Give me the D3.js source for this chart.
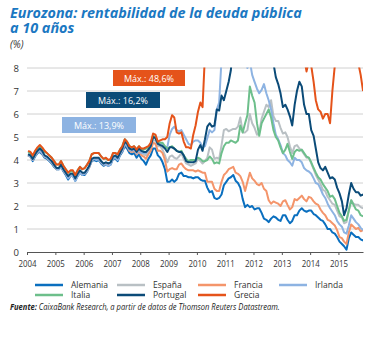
<!DOCTYPE html>
<html>
<head>
<meta charset="utf-8">
<script src="https://cdn.jsdelivr.net/npm/d3@7"></script>
<style>
  body { margin: 0; background: #fff; }
  svg { display: block; font-family: "Open Sans", sans-serif; }
</style>
</head>
<body>
<div id="chart"></div>
<script>
// monthly 10-year yields (%), Jan 2004 .. Nov 2015
var alemania = [
  4.20, 4.15, 3.95, 4.15, 4.30, 4.35, 4.25, 4.10, 4.05, 3.95, 3.85, 3.70,
  3.60, 3.60, 3.70, 3.50, 3.35, 3.15, 3.30, 3.30, 3.10, 3.30, 3.45, 3.35,
  3.35, 3.50, 3.70, 3.95, 4.00, 3.95, 4.00, 3.85, 3.75, 3.80, 3.75, 3.80,
  4.05, 4.05, 3.95, 4.20, 4.35, 4.60, 4.50, 4.30, 4.25, 4.30, 4.10, 4.25,
  4.05, 3.95, 3.80, 4.05, 4.20, 4.50, 4.50, 4.20, 4.10, 3.90, 3.60, 3.05,
  3.05, 3.15, 3.05, 3.15, 3.40, 3.45, 3.30, 3.30, 3.25, 3.25, 3.20, 3.25,
  3.25, 3.15, 3.10, 3.10, 2.80, 2.60, 2.65, 2.35, 2.30, 2.35, 2.50, 2.90,
  3.05, 3.20, 3.25, 3.35, 3.10, 3.00, 2.80, 2.30, 1.95, 2.05, 1.95, 2.00,
  1.85, 1.90, 1.90, 1.70, 1.45, 1.40, 1.30, 1.45, 1.55, 1.50, 1.40, 1.35,
  1.60, 1.60, 1.40, 1.25, 1.35, 1.60, 1.60, 1.80, 1.90, 1.80, 1.75, 1.80,
  1.80, 1.65, 1.60, 1.50, 1.40, 1.35, 1.20, 1.00, 1.00, 0.85, 0.80, 0.65,
  0.45, 0.35, 0.25, 0.10, 0.60, 0.85, 0.75, 0.65, 0.65, 0.55, 0.50
];
var espana = [
  4.25, 4.15, 4.00, 4.20, 4.35, 4.45, 4.30, 4.15, 4.10, 4.00, 3.90, 3.75,
  3.60, 3.60, 3.75, 3.55, 3.40, 3.25, 3.30, 3.30, 3.15, 3.35, 3.50, 3.40,
  3.40, 3.55, 3.70, 4.00, 4.05, 4.05, 4.05, 3.90, 3.80, 3.85, 3.80, 3.85,
  4.10, 4.15, 4.05, 4.30, 4.45, 4.75, 4.65, 4.45, 4.35, 4.45, 4.30, 4.45,
  4.30, 4.25, 4.20, 4.35, 4.50, 4.85, 4.85, 4.60, 4.60, 4.45, 4.20, 3.90,
  4.15, 4.20, 4.10, 4.05, 4.15, 4.30, 4.05, 3.85, 3.80, 3.75, 3.80, 3.85,
  4.05, 3.95, 3.85, 3.95, 4.10, 4.55, 4.45, 4.05, 4.10, 4.05, 4.65, 5.30,
  5.35, 5.25, 5.30, 5.35, 5.35, 5.45, 5.85, 5.20, 5.20, 5.30, 6.00, 5.60,
  5.40, 5.10, 5.20, 5.80, 6.10, 6.40, 6.30, 6.60, 5.90, 5.70, 5.70, 5.40,
  5.15, 5.20, 5.00, 4.60, 4.30, 4.60, 4.65, 4.50, 4.40, 4.25, 4.10, 4.10,
  3.85, 3.60, 3.35, 3.15, 2.95, 2.70, 2.65, 2.40, 2.25, 2.10, 2.05, 1.80,
  1.55, 1.50, 1.25, 1.30, 1.80, 2.25, 2.10, 2.05, 2.05, 1.95, 1.90
];
var francia = [
  4.20, 4.15, 4.00, 4.20, 4.35, 4.45, 4.30, 4.15, 4.10, 4.00, 3.90, 3.75,
  3.60, 3.65, 3.75, 3.55, 3.40, 3.25, 3.30, 3.35, 3.15, 3.35, 3.50, 3.40,
  3.40, 3.55, 3.70, 4.00, 4.05, 4.05, 4.05, 3.90, 3.80, 3.85, 3.80, 3.85,
  4.10, 4.10, 4.05, 4.25, 4.40, 4.70, 4.60, 4.40, 4.35, 4.40, 4.25, 4.40,
  4.20, 4.15, 4.05, 4.25, 4.40, 4.75, 4.70, 4.40, 4.40, 4.30, 4.00, 3.50,
  3.60, 3.65, 3.60, 3.60, 3.80, 3.85, 3.70, 3.60, 3.55, 3.55, 3.55, 3.50,
  3.55, 3.50, 3.45, 3.45, 3.05, 3.05, 3.05, 2.75, 2.65, 2.65, 3.05, 3.35,
  3.45, 3.60, 3.65, 3.70, 3.45, 3.40, 3.30, 3.05, 2.65, 3.05, 3.45, 3.20,
  3.10, 2.95, 2.90, 3.00, 2.75, 2.65, 2.25, 2.10, 2.20, 2.15, 2.10, 2.00,
  2.20, 2.25, 2.05, 1.85, 1.95, 2.30, 2.25, 2.35, 2.45, 2.30, 2.20, 2.40,
  2.35, 2.20, 2.10, 2.05, 1.85, 1.70, 1.60, 1.40, 1.35, 1.25, 1.15, 0.95,
  0.65, 0.60, 0.45, 0.35, 0.85, 1.20, 1.10, 1.00, 1.05, 0.90, 0.95
];
var irlanda = [
  4.20, 4.15, 4.00, 4.20, 4.35, 4.40, 4.30, 4.15, 4.10, 4.00, 3.90, 3.75,
  3.60, 3.60, 3.70, 3.55, 3.40, 3.20, 3.30, 3.30, 3.10, 3.30, 3.45, 3.35,
  3.40, 3.55, 3.70, 4.00, 4.05, 4.00, 4.05, 3.90, 3.80, 3.80, 3.75, 3.80,
  4.10, 4.10, 4.00, 4.25, 4.40, 4.70, 4.60, 4.45, 4.40, 4.45, 4.30, 4.45,
  4.30, 4.30, 4.30, 4.45, 4.60, 5.00, 5.00, 4.70, 4.75, 4.65, 4.55, 4.55,
  5.10, 5.35, 5.45, 5.30, 5.25, 5.30, 5.10, 4.90, 4.70, 4.65, 4.80, 4.85,
  4.85, 4.75, 4.55, 4.60, 4.95, 5.30, 5.20, 5.30, 6.20, 6.50, 8.40, 8.90,
  8.90, 9.00, 9.70, 10.0, 10.8, 11.4, 13.9, 10.2, 8.60, 8.00, 8.30, 7.70,
  7.40, 7.10, 6.90, 7.05, 7.30, 6.90, 6.60, 6.20, 5.60, 5.10, 4.90, 4.65,
  4.30, 4.20, 4.00, 3.90, 3.75, 4.10, 4.00, 4.00, 3.90, 3.65, 3.55, 3.50,
  3.40, 3.20, 3.00, 2.95, 2.75, 2.50, 2.35, 2.10, 1.90, 1.75, 1.60, 1.35,
  1.20, 1.10, 0.85, 0.80, 1.15, 1.60, 1.45, 1.30, 1.20, 1.05, 0.95
];
var italia = [
  4.35, 4.30, 4.15, 4.35, 4.50, 4.60, 4.50, 4.35, 4.30, 4.20, 4.10, 3.95,
  3.80, 3.80, 3.95, 3.75, 3.60, 3.45, 3.50, 3.50, 3.35, 3.55, 3.70, 3.60,
  3.65, 3.80, 3.95, 4.25, 4.30, 4.30, 4.30, 4.15, 4.05, 4.05, 4.00, 4.00,
  4.30, 4.30, 4.25, 4.45, 4.60, 4.90, 4.80, 4.60, 4.55, 4.60, 4.45, 4.60,
  4.45, 4.45, 4.50, 4.55, 4.70, 5.05, 5.00, 4.75, 4.75, 4.75, 4.60, 4.50,
  4.55, 4.60, 4.50, 4.40, 4.35, 4.40, 4.20, 4.05, 3.95, 4.00, 4.00, 4.00,
  4.10, 4.05, 3.95, 3.95, 4.00, 4.15, 4.05, 3.85, 3.90, 3.85, 4.30, 4.60,
  4.75, 4.75, 4.85, 4.80, 4.75, 4.85, 5.50, 5.20, 5.60, 5.95, 7.20, 6.80,
  6.50, 5.60, 5.05, 5.60, 5.80, 6.00, 6.20, 5.85, 5.30, 5.00, 4.85, 4.55,
  4.30, 4.45, 4.70, 4.35, 4.05, 4.35, 4.45, 4.40, 4.45, 4.30, 4.15, 4.10,
  3.90, 3.65, 3.45, 3.25, 3.15, 2.95, 2.80, 2.65, 2.40, 2.45, 2.30, 2.00,
  1.70, 1.55, 1.35, 1.40, 1.80, 2.25, 2.05, 1.85, 1.80, 1.60, 1.55
];
var portugal = [
  4.25, 4.20, 4.05, 4.25, 4.40, 4.50, 4.40, 4.20, 4.15, 4.05, 3.95, 3.80,
  3.65, 3.65, 3.80, 3.60, 3.45, 3.30, 3.40, 3.40, 3.20, 3.40, 3.55, 3.45,
  3.45, 3.60, 3.75, 4.05, 4.10, 4.10, 4.10, 3.95, 3.85, 3.90, 3.85, 3.90,
  4.15, 4.20, 4.10, 4.30, 4.50, 4.80, 4.70, 4.50, 4.45, 4.50, 4.35, 4.50,
  4.40, 4.35, 4.35, 4.45, 4.60, 5.00, 4.95, 4.70, 4.65, 4.60, 4.50, 4.35,
  4.55, 4.55, 4.50, 4.40, 4.35, 4.35, 4.20, 3.95, 3.90, 3.90, 3.90, 3.95,
  4.45, 4.65, 4.40, 4.90, 5.45, 5.60, 5.45, 5.50, 6.20, 6.15, 6.80, 6.60,
  7.00, 7.40, 7.90, 9.20, 9.60, 10.9, 12.1, 10.6, 11.0, 11.7, 12.0, 13.1,
  16.2, 13.0, 13.0, 11.7, 11.7, 10.5, 10.5, 9.60, 8.20, 7.60, 7.30, 6.90,
  6.30, 6.40, 6.20, 5.90, 5.50, 6.40, 7.00, 7.40, 7.20, 6.40, 6.00, 6.00,
  5.30, 5.05, 4.50, 3.90, 3.65, 3.55, 3.70, 3.45, 3.20, 3.25, 3.15, 2.80,
  2.55, 2.20, 1.60, 1.90, 2.50, 3.00, 2.75, 2.60, 2.60, 2.45, 2.50
];
var grecia = [
  4.40, 4.35, 4.20, 4.40, 4.55, 4.65, 4.55, 4.40, 4.30, 4.20, 4.10, 3.95,
  3.80, 3.80, 3.95, 3.75, 3.60, 3.45, 3.55, 3.55, 3.35, 3.55, 3.70, 3.60,
  3.65, 3.80, 3.95, 4.25, 4.30, 4.30, 4.30, 4.15, 4.05, 4.10, 4.00, 4.05,
  4.30, 4.30, 4.25, 4.45, 4.60, 4.90, 4.80, 4.60, 4.55, 4.60, 4.45, 4.60,
  4.50, 4.50, 4.55, 4.60, 4.75, 5.15, 5.10, 4.80, 4.85, 4.90, 4.90, 5.00,
  5.60, 5.95, 5.85, 5.20, 5.15, 5.20, 4.80, 4.55, 4.55, 4.50, 5.10, 5.50,
  6.10, 6.50, 6.30, 8.60, 9.00, 9.80, 10.3, 10.8, 11.3, 9.60, 11.5, 12.0,
  11.7, 11.6, 12.4, 14.0, 16.0, 16.7, 16.2, 16.5, 20.0, 23.5, 26.0, 34.0,
  33.0, 48.6, 21.0, 21.5, 26.0, 27.0, 26.0, 24.0, 20.5, 18.0, 16.0, 13.0,
  11.0, 10.8, 11.5, 11.0, 8.90, 10.2, 10.5, 10.0, 9.80, 8.50, 7.85, 8.30,
  8.10, 7.40, 6.60, 6.20, 6.10, 5.80, 6.00, 6.00, 5.60, 7.00, 8.10, 9.00,
  9.50, 9.80, 11.0, 12.5, 11.0, 11.5, 14.0, 10.0, 8.20, 7.70, 7.00
];

var seriesNames = ["Alemania", "España", "Francia", "Irlanda", "Italia", "Portugal", "Grecia"];
var seriesValues = [alemania, espana, francia, irlanda, italia, portugal, grecia];
var seriesColors = ["#0a6fbf", "#b9c0c4", "#f4956b", "#8db3e2", "#6dbf8b", "#0b4b78", "#e5531a"];

var yTicks = [0, 1, 2, 3, 4, 5, 6, 7, 8];
var yearTicks = [2004, 2005, 2006, 2007, 2008, 2009, 2010, 2011, 2012, 2013, 2014, 2015];

var W = 384, H = 338;
var svg = d3.select("#chart").append("svg").attr("width", W).attr("height", H);

// narrow a text horizontally so it takes w pixels
function squeeze(sel, x0, w) {
  var bw = sel.node().getComputedTextLength();
  var k = Math.min(1, w / bw);
  sel.attr("x", 0).attr("transform", "translate(" + x0 + ",0) scale(" + k + ",1)");
  return sel;
}

// title
var blue = "#1b78c2";
var titleStyle = function (s) {
  return s.attr("fill", blue).style("font-size", "15px")
    .style("font-weight", "bold").style("font-style", "italic");
};
var t1 = titleStyle(svg.append("text")).attr("y", 18).text("Eurozona: rentabilidad de la deuda pública");
var t2 = titleStyle(svg.append("text")).attr("y", 33.5).text("a 10 años");
var k1 = Math.min(1, 292 / t1.node().getComputedTextLength());
t1.attr("transform", "translate(10,0) scale(" + k1 + ",1)");
t2.attr("transform", "translate(10,0) scale(" + k1 + ",1)");

svg.append("text").attr("x", 10).attr("y", 48)
  .attr("fill", "#333").style("font-size", "10px").style("font-style", "italic")
  .text("(%)");

// scales
var dates = alemania.map(function (d, i) { return new Date(2004, i, 15); });
var x = d3.scaleTime().domain([new Date(2004, 0, 1), new Date(2015, 10, 14)]).range([27, 363]);
var y = d3.scaleLinear().domain([0, 8]).range([252, 68]);

// gridlines + y labels
svg.append("g").selectAll("line").data(yTicks.slice(1)).join("line")
  .attr("x1", x.range()[0]).attr("x2", x.range()[1])
  .attr("y1", function (d) { return y(d); }).attr("y2", function (d) { return y(d); })
  .attr("stroke", "#d0d0d0").attr("stroke-width", 1);

svg.append("g").selectAll("text").data(yTicks).join("text")
  .attr("x", 19).attr("y", function (d) { return y(d) + 3.5; })
  .attr("text-anchor", "end").attr("fill", "#333").style("font-size", "9.5px")
  .text(function (d) { return d; });

// x axis
var xAxis = svg.append("g").attr("transform", "translate(0," + y(0) + ")")
  .call(d3.axisBottom(x)
    .tickValues(yearTicks.map(function (yr) { return new Date(yr, 0, 1); }))
    .tickFormat(d3.timeFormat("%Y"))
    .tickSize(3).tickSizeOuter(0));
xAxis.select(".domain").attr("stroke", "#555");
xAxis.selectAll(".tick line").attr("stroke", "#555");
xAxis.selectAll(".tick text").attr("fill", "#333").attr("dy", "0.95em")
  .style("font-size", "9.5px").style("font-family", "'Open Sans', sans-serif")
  .attr("textLength", 18).attr("lengthAdjust", "spacingAndGlyphs");

// lines
svg.append("clipPath").attr("id", "plot-clip").append("rect")
  .attr("x", x.range()[0]).attr("y", y(8) - 0.5)
  .attr("width", x.range()[1] - x.range()[0]).attr("height", y(0) - y(8) + 1);

var line = d3.line()
  .x(function (d, i) { return x(dates[i]); })
  .y(function (d) { return y(d); });

svg.append("g").attr("clip-path", "url(#plot-clip)")
  .selectAll("path").data(seriesValues).join("path")
  .attr("fill", "none")
  .attr("stroke", function (d, i) { return seriesColors[i]; })
  .attr("stroke-width", 2)
  .attr("stroke-linejoin", "round")
  .attr("d", line);

// max labels for the series that leave the chart
var fmt = function (v) { return "Máx.: " + d3.format(".1f")(v).replace(".", ",") + "%"; };
var boxes = [
  { s: 6, x: 113, y: 70, w: 72 },
  { s: 5, x: 86, y: 92, w: 74 },
  { s: 3, x: 62, y: 117, w: 74 }
];
var box = svg.append("g").selectAll("g").data(boxes).join("g")
  .attr("transform", function (d) { return "translate(" + d.x + "," + d.y + ")"; });
box.append("rect").attr("width", function (d) { return d.w; }).attr("height", 16)
  .attr("fill", function (d) { return seriesColors[d.s]; });
box.append("text").attr("x", function (d) { return d.w / 2; }).attr("y", 11.5)
  .attr("text-anchor", "middle").attr("fill", "#fff").style("font-size", "9px")
  .text(function (d) { return fmt(d3.max(seriesValues[d.s])); });

// legend
var legCols = [35, 117, 198, 279];
var leg = svg.append("g").selectAll("g").data(seriesNames).join("g")
  .attr("transform", function (d, i) {
    return "translate(" + legCols[i % 4] + "," + (i < 4 ? 285 : 295) + ")";
  });
leg.append("line").attr("x1", 0).attr("x2", 28)
  .attr("stroke", function (d, i) { return seriesColors[i]; }).attr("stroke-width", 2.5);
leg.append("text").attr("x", 36).attr("y", 3)
  .attr("fill", "#333").style("font-size", "8.5px")
  .text(function (d) { return d; });

// source
var src = svg.append("text").attr("y", 310)
  .attr("fill", "#222").style("font-size", "8.5px").style("font-style", "italic");
src.append("tspan").style("font-weight", "bold").text("Fuente: ");
src.append("tspan").text("CaixaBank Research, a partir de datos de Thomson Reuters Datastream.");
squeeze(src, 10, 270);
</script>
</body>
</html>
